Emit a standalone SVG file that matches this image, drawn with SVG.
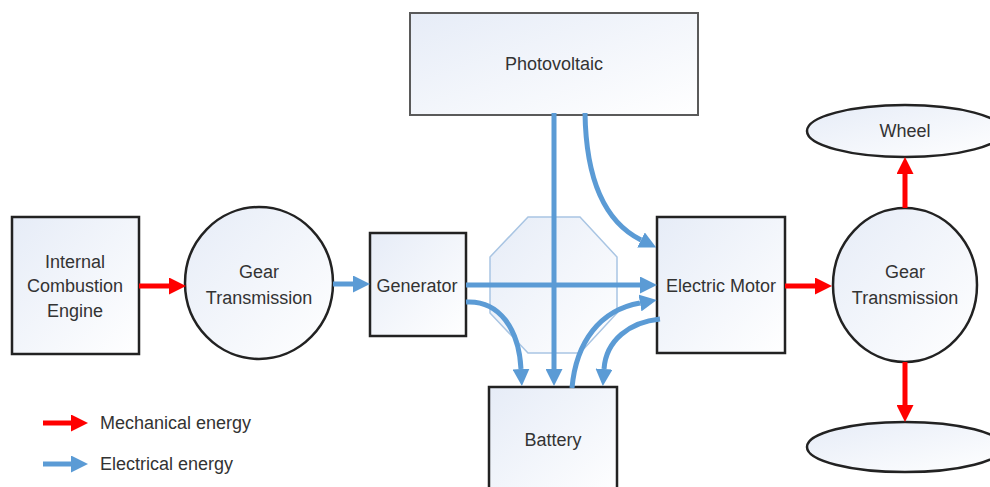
<svg xmlns="http://www.w3.org/2000/svg" width="990" height="487" viewBox="0 0 990 487">
<defs>
<linearGradient id="fillg" x1="0" y1="0" x2="1" y2="1">
<stop offset="0" stop-color="#e6ecf7"/>
<stop offset="1" stop-color="#ffffff"/>
</linearGradient>
<marker id="ab" viewBox="0 0 10 10" refX="0" refY="5" markerWidth="17" markerHeight="17" markerUnits="userSpaceOnUse" orient="auto">
<path d="M0,0 L10,5 L0,10 z" fill="#5b9bd5"/>
</marker>
<marker id="ar" viewBox="0 0 10 10" refX="0" refY="5" markerWidth="17" markerHeight="17" markerUnits="userSpaceOnUse" orient="auto">
<path d="M0,0 L10,5 L0,10 z" fill="#ff0000"/>
</marker>
</defs>
<style>
.box{fill:url(#fillg);stroke:#222;stroke-width:2.5}
.pv{fill:url(#fillg);stroke:#5a5a5a;stroke-width:2}
.oct{fill:url(#fillg);stroke:#a9c5e3;stroke-width:1.5}
.lbl{font-family:"Liberation Sans",Arial,sans-serif;font-size:18px;fill:#333;text-anchor:middle;dominant-baseline:central}
.leg{font-family:"Liberation Sans",Arial,sans-serif;font-size:18px;fill:#333;dominant-baseline:central}
.eb{fill:none;stroke:#5b9bd5;stroke-width:5;marker-end:url(#ab)}
.mr{fill:none;stroke:#ff0000;stroke-width:5;marker-end:url(#ar)}
</style>
<rect width="990" height="487" fill="#fff"/>

<g id="pv-node">
<rect class="pv" x="410" y="13" width="288" height="102"/>
<text class="lbl" x="554" y="64">Photovoltaic</text>
</g>
<g id="hub">
<polygon class="oct" points="528,217 580,217 617,257 617,313 580,353 528,353 490,313 490,257"/>
</g>
<g id="ice">
<rect class="box" x="12" y="217" width="127" height="137"/>
<text class="lbl" x="75" y="262">Internal</text>
<text class="lbl" x="75" y="286">Combustion</text>
<text class="lbl" x="75" y="311">Engine</text>
</g>
<g id="gear-left">
<ellipse class="box" cx="259" cy="283" rx="74" ry="76" stroke-width="2"/>
<text class="lbl" x="259" y="272">Gear</text>
<text class="lbl" x="259" y="298">Transmission</text>
</g>
<g id="generator">
<rect class="box" x="370" y="233" width="96" height="103"/>
<text class="lbl" x="417" y="286">Generator</text>
</g>
<g id="motor">
<rect class="box" x="657" y="217" width="128" height="136"/>
<text class="lbl" x="721" y="286">Electric Motor</text>
</g>
<g id="gear-right">
<ellipse class="box" cx="905" cy="285" rx="72" ry="77" stroke-width="2"/>
<text class="lbl" x="905" y="272">Gear</text>
<text class="lbl" x="905" y="298">Transmission</text>
</g>
<g id="wheel-top">
<ellipse class="box" cx="905" cy="131" rx="98" ry="26" stroke-width="2"/>
<text class="lbl" x="905" y="131">Wheel</text>
</g>
<g id="wheel-bottom">
<ellipse class="box" cx="905" cy="447" rx="98" ry="25" stroke-width="2"/>
</g>
<g id="battery">
<rect class="box" x="489" y="387" width="128" height="115"/>
<text class="lbl" x="553" y="440">Battery</text>
</g>

<g id="connectors">
<path class="mr" d="M139,286 L169,286"/>
<path class="eb" d="M333,284 L353,284" stroke-width="4"/>
<path class="eb" d="M466,285 L640,285"/>
<path class="eb" d="M554,113 L554,369"/>
<path class="eb" d="M585,113 C586,180 605,222 641,240"/>
<path class="eb" d="M466,302 C500,300 519,330 521,369"/>
<path class="eb" d="M572,388 C576,342 600,310 640,303"/>
<path class="eb" d="M660,319 C630,322 606,340 604,369"/>
<path class="mr" d="M785,286 L815,286"/>
<path class="mr" d="M905,208 L905,174"/>
<path class="mr" d="M905,362 L905,405"/>
</g>

<g id="legend">
<path class="mr" d="M43,423 L71,423"/>
<text class="leg" x="100" y="423">Mechanical energy</text>
<path class="eb" d="M43,464 L71,464"/>
<text class="leg" x="100" y="464">Electrical energy</text>
</g>
</svg>
